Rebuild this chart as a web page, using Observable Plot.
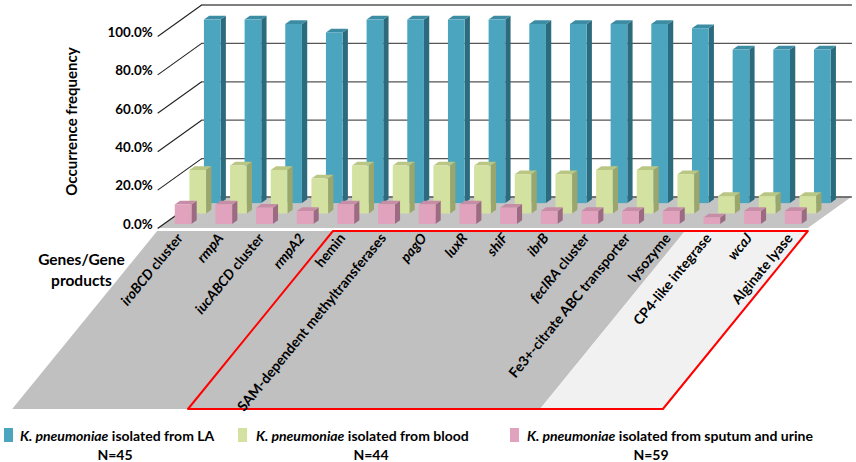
<!DOCTYPE html>
<html>
<head>
<meta charset="utf-8">
<script src="https://cdn.jsdelivr.net/npm/d3@7"></script>
<script src="https://cdn.jsdelivr.net/npm/@observablehq/plot@0.6"></script>
<style>
  html, body { margin: 0; padding: 0; background: #fff; }
  #wrap { width: 856px; position: relative; font-family: Lato, "Open Sans", sans-serif; font-weight: bold; }
  #legend { position: relative; width: 856px; height: 44px; font-size: 14px; color: #000; }
  #legend .sw { position: absolute; width: 9px; height: 14px; top: 10px; }
  #legend .lab { position: absolute; top: 10px; white-space: nowrap; line-height: 16px; }
  #legend .n { position: absolute; top: 29px; white-space: nowrap; line-height: 16px; transform: translateX(-50%); }
</style>
</head>
<body>
<div id="wrap">
  <div id="chart"></div>
  <div id="legend"></div>
</div>
<script>
// ---- data ----
const genes = ["iroBCD cluster", "rmpA", "iucABCD cluster", "rmpA2", "hemin",
  "SAM-dependent methyltransferases", "pagO", "luxR", "shiF", "ibrB", "fecIRA cluster",
  "Fe3+-citrate ABC transporter", "lysozyme", "CP4-like integrase", "wcaJ", "Alginate lyase"];
const italicParts = ["iroBCD", "rmpA", "iucABCD", "rmpA2", "", "", "pagO", "luxR", "shiF", "ibrB",
  "fecIRA", "", "", "", "wcaJ", ""];
const laValues = [95.6, 95.6, 93.3, 88.9, 95.6, 95.6, 95.6, 95.6, 93.3, 93.3, 93.3, 93.3, 91.1, 80.0, 80.0, 80.0];
const bloodValues = [22.7, 25.0, 22.7, 18.2, 25.0, 25.0, 25.0, 25.0, 20.5, 20.5, 22.7, 22.7, 20.5, 9.1, 9.1, 9.1];
const sputumValues = [10.2, 10.2, 8.5, 6.8, 10.2, 10.2, 10.2, 10.2, 8.5, 6.8, 6.8, 6.8, 6.8, 3.4, 6.8, 6.8];
const seriesSpecies = ["K. pneumoniae", "K. pneumoniae", "K. pneumoniae"];
const seriesSources = ["isolated from LA", "isolated from blood", "isolated from sputum and urine"];
const seriesN = ["N=45", "N=44", "N=59"];
const yTicks = [0, 20, 40, 60, 80, 100];
const yTitle = "Occurrence frequency";
const xTitle = "Genes/Gene\nproducts";

// ---- layout (pseudo-3D oblique projection) ----
const X0 = 177.5, XSTEP = 40.67;     // x scale: category index -> px
const Y0 = 228, YSTEP = 1.92;        // y scale: percent -> px
const px2x = p => (p - X0) / XSTEP;  // helpers to place titles in data space
const px2y = p => (Y0 - p) / YSTEP;
const DX = 1.082;   // depth shift in category units (front edge -> back wall)
const DY = 16.4;    // depth shift in percent units
const barW = 0.41, barD = 0.12;
const xL = -0.5, xR = genes.length - 0.5;

const palette = [
  {front: "#4BA5BF", side: "#2C6B7D", top: "#3C8CA3"},
  {front: "#D3E2A0", side: "#9AA66C", top: "#BAC784"},
  {front: "#E0A2BD", side: "#9D6A83", top: "#C68DA6"}
];
const rows = [
  {values: laValues, t: 0.79, col: palette[0]},
  {values: bloodValues, t: 0.46, col: palette[1]},
  {values: sputumValues, t: 0.127, col: palette[2]}
];

const barMarks = [];
rows.forEach((row, r) => {
  const bars = row.values.map((v, i) => {
    const xl = i + row.t * DX - barW / 2;
    const base = row.t * DY;
    return {id: r + "-" + i, xl, xr: xl + barW, base, top: base + v};
  });
  const side = bars.flatMap(b => [
    {id: b.id, x: b.xr, y1: b.base, y2: b.top},
    {id: b.id, x: b.xr + barD * DX, y1: b.base + barD * DY, y2: b.top + barD * DY}
  ]);
  const topF = bars.flatMap(b => [
    {id: b.id, x1: b.xl, x2: b.xr, y: b.top},
    {id: b.id, x1: b.xl + barD * DX, x2: b.xr + barD * DX, y: b.top + barD * DY}
  ]);
  barMarks.push(
    Plot.area(side, {x1: "x", y1: "y1", y2: "y2", z: "id", fill: row.col.side}),
    Plot.area(topF, {x1: "x1", x2: "x2", y1: "y", z: "id", fill: row.col.top}),
    Plot.rect(bars, {x1: "xl", x2: "xr", y1: "base", y2: "top", fill: row.col.front})
  );
});

// label band (parallelograms under the floor)
const bandTop = px2y(231), bandBot = px2y(409), shear = -145 / XSTEP;
const band = (a, b) => [
  {x1: a, x2: b, y: bandTop},
  {x1: a + shear, x2: b + shear, y: bandBot}
];
const splitX = px2x(685), redX = px2x(333);

const chart = Plot.plot({
  width: 856,
  height: 418,
  margin: 0,
  x: {domain: [0, genes.length - 1], range: [X0, X0 + XSTEP * (genes.length - 1)], axis: null},
  y: {domain: [0, 100], range: [Y0, Y0 - 100 * YSTEP], axis: null},
  style: {fontFamily: "Lato, 'Open Sans', sans-serif", fontWeight: "bold", fontSize: "13px", color: "#000", background: "#fff", overflow: "visible"},
  marks: [
    // floor
    Plot.area([{x1: xL, x2: xR, y: 0}, {x1: xL + DX, x2: xR + DX, y: DY}], {x1: "x1", x2: "x2", y1: "y", fill: "#c4c4c4"}),
    // back wall grid lines
    Plot.ruleY(yTicks, {y: d => DY + d, x1: () => xL + DX, x2: () => xR + DX, stroke: "#555", strokeWidth: 1.3}),
    // side wall diagonals
    Plot.link(yTicks, {x1: () => xL, y1: d => d, x2: () => xL + DX, y2: d => DY + d, stroke: "#222", strokeWidth: 1.1}),
    // y tick labels
    Plot.text(yTicks, {x: () => xL, y: d => d, text: d => d.toFixed(1) + "%", textAnchor: "end", dx: -5, dy: -4, fontSize: 13.4}),
    ...barMarks,
    // label band
    Plot.area(band(xL, splitX), {x1: "x1", x2: "x2", y1: "y", fill: "#c0c0c0"}),
    Plot.area(band(splitX, xR), {x1: "x1", x2: "x2", y1: "y", fill: "#f1f1f1"}),
    Plot.area(band(redX, xR), {x1: "x1", x2: "x2", y1: "y", fill: "none", stroke: "#ff0000", strokeWidth: 2}),
    // category labels
    Plot.text(genes, {x: (d, i) => i + px2x(179.5) - px2x(X0), y: () => px2y(235), text: d => d, rotate: -50.6, textAnchor: "end", fontSize: 14}),
    // axis titles
    Plot.text([yTitle], {x: () => px2x(72), y: () => px2y(121), text: d => d, rotate: -90, textAnchor: "middle", fontSize: 15}),
    Plot.text([xTitle], {x: () => px2x(81), y: () => px2y(268), text: d => d, textAnchor: "middle", lineAnchor: "middle", lineHeight: 1.35, fontSize: 15.5})
  ]
});

// italic gene names
chart.querySelectorAll("text").forEach(el => {
  const k = genes.indexOf(el.textContent);
  if (k >= 0 && italicParts[k]) {
    const it = italicParts[k];
    const rest = genes[k].slice(it.length);
    el.textContent = "";
    const ns = "http://www.w3.org/2000/svg";
    const t1 = document.createElementNS(ns, "tspan");
    t1.setAttribute("font-style", "italic");
    t1.textContent = it;
    el.appendChild(t1);
    if (rest) {
      const t2 = document.createElementNS(ns, "tspan");
      t2.textContent = rest;
      el.appendChild(t2);
    }
  }
});
document.getElementById("chart").appendChild(chart);

// legend (HTML below the SVG)
const legend = document.getElementById("legend");
const swLeft = [4, 238, 510], labLeft = [20, 256, 527], nCenter = [115, 371, 651];
palette.forEach((p, i) => {
  const sw = document.createElement("div");
  sw.className = "sw"; sw.style.left = swLeft[i] + "px"; sw.style.background = p.front;
  legend.appendChild(sw);
  const lab = document.createElement("div");
  lab.className = "lab"; lab.style.left = labLeft[i] + "px";
  lab.innerHTML = "<i>" + seriesSpecies[i] + "</i> " + seriesSources[i];
  legend.appendChild(lab);
  const n = document.createElement("div");
  n.className = "n"; n.style.left = nCenter[i] + "px"; n.textContent = seriesN[i];
  legend.appendChild(n);
});
</script>
</body>
</html>
